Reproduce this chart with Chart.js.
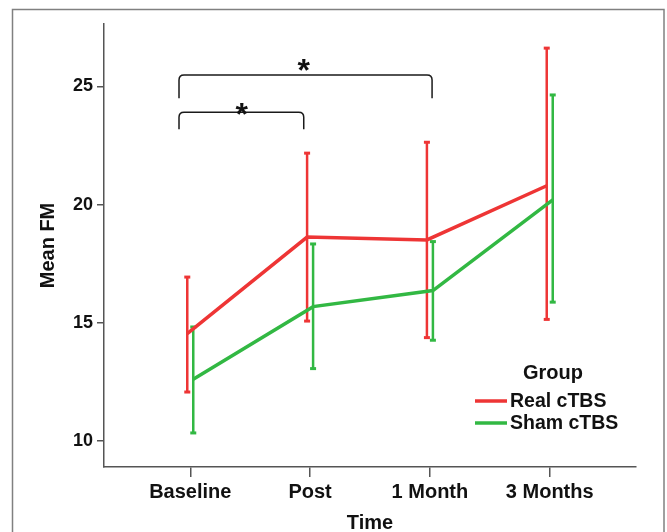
<!DOCTYPE html>
<html>
<head>
<meta charset="utf-8">
<title>Mean FM by time and group</title>
<script src="https://cdn.jsdelivr.net/npm/chart.js"></script>
<style>
    html, body { margin: 0; padding: 0; background: #fff; }
</style>
</head>
<body>
<canvas id="fmChart" width="667" height="532"></canvas>
<script>
// Chart data
const timeLabels = ['Baseline', 'Post', '1 Month', '3 Months'];
const yTicks = [10, 15, 20, 25];

const realMean = [14.55, 18.63, 18.51, 20.80];
const realLow = [12.08, 15.08, 14.38, 15.15];
const realHigh = [16.94, 22.18, 22.64, 26.62];

const shamMean = [12.62, 15.69, 16.37, 20.20];
const shamLow = [10.35, 13.07, 14.27, 15.88];
const shamHigh = [14.83, 18.34, 18.44, 24.64];

// Significance brackets (time index / FM units)
const bracketStart = [-0.094, -0.094];
const bracketEnd = [0.947, 2.018];
const bracketTop = [23.91, 25.48];
const bracketLeg = [23.19, 24.50];
const starX = [0.43, 0.947];
const starY = [24.15, 26.03];

const RED = '#ee3535';
const GREEN = '#32b843';
const FONT = "'Liberation Sans', Arial, sans-serif";

// small horizontal dodge so the two groups don't overlap
const dodge = 0.025;
function toPoints(values, shift) {
    return values.map((v, i) => ({ x: i + shift, y: v }));
}

// Outer frame
const framePlugin = {
    id: 'frame',
    beforeDraw(chart) {
        const ctx = chart.ctx;
        ctx.save();
        ctx.strokeStyle = '#808080';
        ctx.lineWidth = 1.5;
        ctx.strokeRect(12.5, 9.5, 651.5, 600);
        ctx.restore();
    }
};

// Error bars drawn under the mean lines
const errorBarPlugin = {
    id: 'errorBars',
    beforeDatasetsDraw(chart) {
        const ctx = chart.ctx;
        const xs = chart.scales.x;
        const ys = chart.scales.y;
        chart.data.datasets.forEach(ds => {
            ctx.save();
            ctx.strokeStyle = ds.borderColor;
            ds.data.forEach((p, i) => {
                const x = xs.getPixelForValue(p.x);
                const yLo = ys.getPixelForValue(ds.low[i]);
                const yHi = ys.getPixelForValue(ds.high[i]);
                ctx.lineWidth = 2.5;
                ctx.beginPath();
                ctx.moveTo(x, yLo);
                ctx.lineTo(x, yHi);
                ctx.stroke();
                ctx.lineWidth = 3;
                [yLo, yHi].forEach(y => {
                    ctx.beginPath();
                    ctx.moveTo(x - 3, y);
                    ctx.lineTo(x + 3, y);
                    ctx.stroke();
                });
            });
            ctx.restore();
        });
    }
};

// Brackets with asterisks
const bracketPlugin = {
    id: 'brackets',
    afterDatasetsDraw(chart) {
        const ctx = chart.ctx;
        const xs = chart.scales.x;
        const ys = chart.scales.y;
        const r = 5;
        ctx.save();
        ctx.strokeStyle = '#1a1a1a';
        ctx.lineWidth = 1.5;
        bracketStart.forEach((s, i) => {
            const xL = xs.getPixelForValue(s);
            const xR = xs.getPixelForValue(bracketEnd[i]);
            const yT = ys.getPixelForValue(bracketTop[i]);
            const yB = ys.getPixelForValue(bracketLeg[i]);
            ctx.beginPath();
            ctx.moveTo(xL, yB);
            ctx.lineTo(xL, yT + r);
            ctx.quadraticCurveTo(xL, yT, xL + r, yT);
            ctx.lineTo(xR - r, yT);
            ctx.quadraticCurveTo(xR, yT, xR, yT + r);
            ctx.lineTo(xR, yB);
            ctx.stroke();
        });
        const size = 32;
        ctx.fillStyle = '#111';
        ctx.font = 'bold ' + size + 'px ' + FONT;
        ctx.textAlign = 'center';
        ctx.textBaseline = 'alphabetic';
        starX.forEach((sx, i) => {
            const x = xs.getPixelForValue(sx);
            const y = ys.getPixelForValue(starY[i]);
            ctx.fillText('*', x, y + size * 0.58);
        });
        ctx.restore();
    }
};

// Legend with "Group" heading, inside plot area
const legendPlugin = {
    id: 'groupLegend',
    afterDraw(chart) {
        const ctx = chart.ctx;
        const area = chart.chartArea;
        const lineX = area.right - 161;
        const top = area.top + 347;
        ctx.save();
        ctx.fillStyle = '#111';
        ctx.font = 'bold 20px ' + FONT;
        ctx.textAlign = 'center';
        ctx.textBaseline = 'middle';
        ctx.fillText('Group', lineX + 78, top + 2);
        ctx.textAlign = 'left';
        ctx.font = 'bold 19.5px ' + FONT;
        chart.data.datasets.forEach((ds, i) => {
            const y = top + 30 + i * 22;
            ctx.strokeStyle = ds.borderColor;
            ctx.lineWidth = 3.5;
            ctx.beginPath();
            ctx.moveTo(lineX, y);
            ctx.lineTo(lineX + 32, y);
            ctx.stroke();
            ctx.fillText(ds.label, lineX + 35, y + 1);
        });
        ctx.restore();
    }
};

const ctx = document.getElementById('fmChart');
new Chart(ctx, {
    type: 'line',
    data: {
        datasets: [{
            label: 'Real cTBS',
            data: toPoints(realMean, -dodge),
            low: realLow,
            high: realHigh,
            borderColor: RED,
            borderWidth: 3.5,
            pointRadius: 0,
            tension: 0
        }, {
            label: 'Sham cTBS',
            data: toPoints(shamMean, dodge),
            low: shamLow,
            high: shamHigh,
            borderColor: GREEN,
            borderWidth: 3.5,
            pointRadius: 0,
            tension: 0
        }]
    },
    options: {
        responsive: false,
        animation: false,
        layout: {
            padding: { top: 24, right: 31, left: 0, bottom: 0 }
        },
        plugins: {
            legend: { display: false },
            tooltip: { enabled: false }
        },
        scales: {
            x: {
                type: 'linear',
                min: -0.72,
                max: 3.72,
                afterBuildTicks: axis => {
                    axis.ticks = timeLabels.map((t, i) => ({ value: i }));
                },
                afterFit: axis => { axis.height = 65; },
                grid: {
                    drawOnChartArea: false,
                    drawTicks: true,
                    tickLength: 10,
                    color: '#555',
                    lineWidth: 1.5
                },
                border: { display: true, color: '#555', width: 1.5 },
                ticks: {
                    color: '#111',
                    padding: 3,
                    maxRotation: 0,
                    font: { family: FONT, size: 20, weight: 'bold' },
                    callback: value => timeLabels[value]
                },
                title: {
                    display: true,
                    text: 'Time',
                    color: '#111',
                    padding: 0,
                    font: { family: FONT, size: 20, weight: 'bold', lineHeight: 0.9 }
                }
            },
            y: {
                min: 8.91,
                max: 27.64,
                afterBuildTicks: axis => {
                    axis.ticks = yTicks.map(v => ({ value: v }));
                },
                afterFit: axis => { axis.width = 104; },
                grid: {
                    drawOnChartArea: false,
                    drawTicks: true,
                    tickLength: 7,
                    color: '#555',
                    lineWidth: 1.5
                },
                border: { display: true, color: '#555', width: 1.5 },
                ticks: {
                    color: '#111',
                    padding: 4,
                    font: { family: FONT, size: 18, weight: 'bold' }
                },
                title: {
                    display: true,
                    text: 'Mean FM',
                    color: '#111',
                    padding: { top: 36, bottom: 0 },
                    font: { family: FONT, size: 20, weight: 'bold' }
                }
            }
        }
    },
    plugins: [framePlugin, errorBarPlugin, bracketPlugin, legendPlugin]
});
</script>
</body>
</html>
